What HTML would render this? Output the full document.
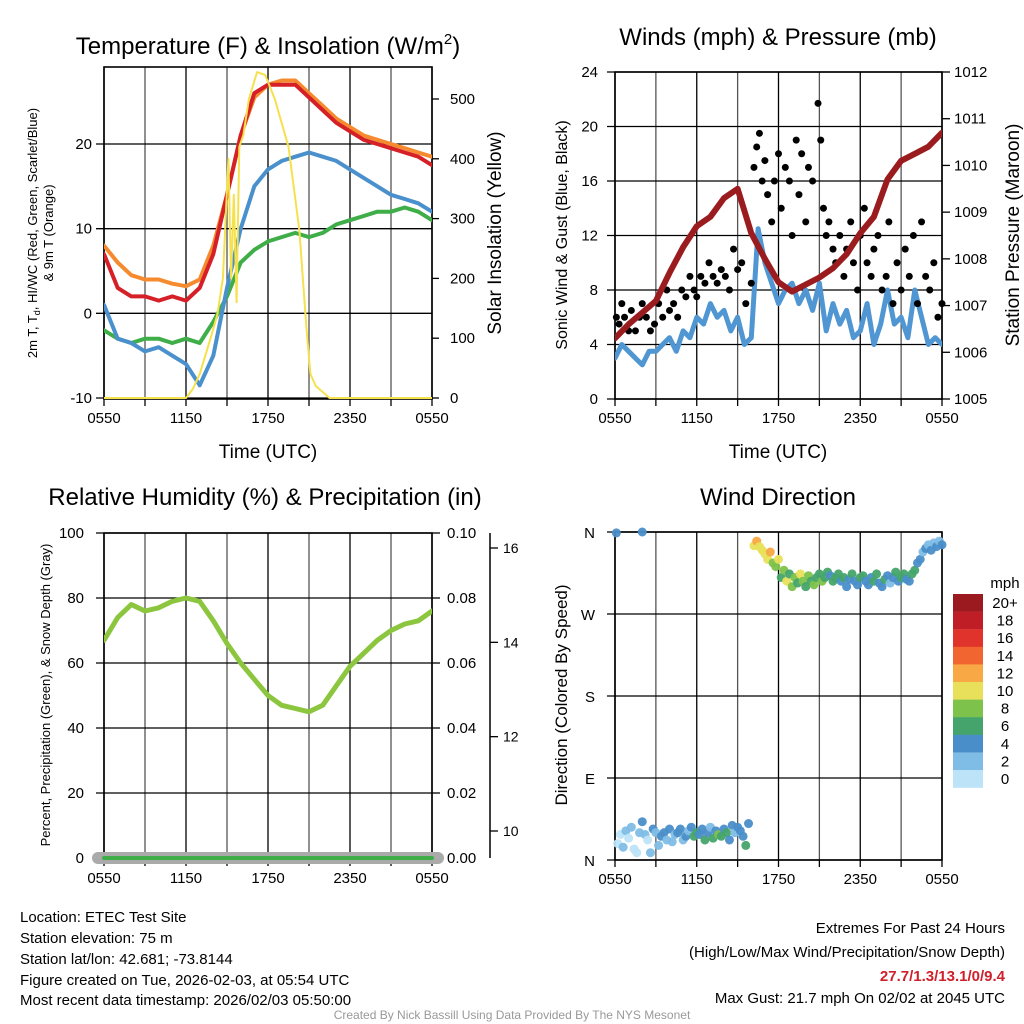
<!DOCTYPE html>
<html><head><meta charset="utf-8"><style>
html,body{margin:0;padding:0;background:#fff}
svg{display:block;font-family:"Liberation Sans",Arial,sans-serif}
</style></head><body>
<svg id="s" width="1024" height="1024" viewBox="0 0 1024 1024" xmlns="http://www.w3.org/2000/svg">
<g font-size="24" text-anchor="middle">
<text x="268" y="54">Temperature (F) &amp; Insolation (W/m<tspan font-size="15" dy="-10">2</tspan><tspan dy="10">)</tspan></text>
<text x="778" y="45">Winds (mph) &amp; Pressure (mb)</text>
<text x="265" y="505">Relative Humidity (%) &amp; Precipitation (in)</text>
<text x="778" y="505">Wind Direction</text>
</g>
<g font-size="19" text-anchor="middle">
<text x="268" y="458">Time (UTC)</text>
<text x="778" y="458">Time (UTC)</text>
<text transform="translate(501,233) rotate(-90)">Solar Insolation (Yellow)</text>
<text transform="translate(1019,235) rotate(-90)">Station Pressure (Maroon)</text>
<text transform="translate(567,235) rotate(-90)" font-size="16">Sonic Wind &amp; Gust (Blue, Black)</text>
<text transform="translate(567,695) rotate(-90)" font-size="17">Direction (Colored By Speed)</text>
<text transform="translate(50,695) rotate(-90)" font-size="13">Percent, Precipitation (Green), &amp; Snow Depth (Gray)</text>
<text transform="translate(37,233) rotate(-90)" font-size="13">2m T, T<tspan font-size="9" dy="3">d</tspan><tspan dy="-3">, HI/WC (Red, Green, Scarlet/Blue)</tspan></text>
<text transform="translate(53,233) rotate(-90)" font-size="13">&amp; 9m T (Orange)</text>
</g>
<g font-size="15">
<text x="20" y="922">Location: ETEC Test Site</text>
<text x="20" y="943">Station elevation: 75 m</text>
<text x="20" y="964">Station lat/lon: 42.681; -73.8144</text>
<text x="20" y="985">Figure created on Tue, 2026-02-03, at 05:54 UTC</text>
<text x="20" y="1005">Most recent data timestamp: 2026/02/03 05:50:00</text>
<g text-anchor="end">
<text x="1005" y="933">Extremes For Past 24 Hours</text>
<text x="1005" y="957">(High/Low/Max Wind/Precipitation/Snow Depth)</text>
<text x="1005" y="981" fill="#d0202a" font-weight="bold">27.7/1.3/13.1/0/9.4</text>
<text x="1005" y="1003">Max Gust: 21.7 mph On 02/02 at 2045 UTC</text>
</g>
<text x="512" y="1019" font-size="12" fill="#999" text-anchor="middle">Created By Nick Bassill Using Data Provided By The NYS Mesonet</text>
</g>
</svg>
<script>
// ---- data (values spread uniformly over 24 h unless paired with hours) ----
const timeLabels=["0550","1150","1750","2350","0550"];
const tempRed=[7,3,2,2,1.5,2,1.5,3,7,14,21,26,27,27,27,25.5,24,22.5,21.5,20.5,20,19.5,19,18.5,17.5];
const tempOrange=[8,6,4.5,4,4,3.5,3.2,4,8,14,21,25.5,27,27.5,27.5,26,24.5,23,22,21,20.5,20,19.5,19,18.5];
const tempBlue=[1,-3,-3.5,-4.5,-4,-5,-6,-8.5,-5,3,10,15,17,18,18.5,19,18.5,18,17,16,15,14,13.5,13,12];
const tempGreen=[-2,-3,-3.5,-3,-3,-3.5,-3,-3.5,-1,2,6,7.5,8.5,9,9.5,9,9.5,10.5,11,11.5,12,12,12.5,12,11];
const solarHours=[0,6,6.5,7,7.8,8.3,8.7,9.1,9.3,9.5,9.7,9.9,10.2,10.6,11.2,11.8,12.5,13.5,14.3,14.8,15.1,15.5,16.5,24];
const solarVals=[0,0,15,40,100,140,200,400,200,340,160,420,440,500,545,540,500,420,280,120,40,20,0,0];
const sonic=[3,4,3.5,3,2.5,3.5,3.5,4,4.5,3.5,5,4.5,6,5.5,7,6,6.5,5,6,4,4.5,12.5,10,8.5,7,8,8.5,7,8,6.5,8.5,5,7,5.5,6.5,4.5,5,7,4,5.5,8,5.5,6,4.5,8,6,4,4.5,4];
const pressure=[1006.3,1006.6,1006.85,1007.1,1007.7,1008.25,1008.7,1008.9,1009.3,1009.5,1008.55,1008.0,1007.5,1007.3,1007.45,1007.6,1007.8,1008.1,1008.55,1008.9,1009.7,1010.1,1010.25,1010.4,1010.7];
const gustPoints=[[0.1,6],[0.3,5.5],[0.5,7],[0.7,6],[1,5],[1.2,6.5],[1.5,5],[1.8,6],[2,7],[2.3,6],[2.6,5],[2.9,5.5],[3.2,7],[3.5,6],[3.8,8],[4,6.5],[4.3,7],[4.6,6],[4.9,8],[5.2,7.5],[5.5,9],[5.8,8],[6,7.5],[6.3,9],[6.6,8.5],[6.9,10],[7.2,9],[7.5,8.5],[7.8,9.5],[8.1,9],[8.4,8],[8.7,11],[9,9.5],[9.3,10],[9.6,7],[10,8.5],[10.2,17],[10.4,18.5],[10.6,19.5],[10.8,16],[11,17.5],[11.2,15],[11.5,13],[11.7,16],[12,18],[12.2,14],[12.5,17],[12.8,16],[13,12],[13.3,19],[13.5,15],[13.7,18],[14,13],[14.2,17],[14.5,16],[14.9,21.7],[15.1,19],[15.3,14],[15.5,12],[15.7,13],[16,11],[16.2,10],[16.5,12],[16.8,9],[17,11],[17.3,13],[17.5,10],[17.8,8],[18,12],[18.3,14],[18.5,10],[18.8,9],[19,11],[19.3,12],[19.6,8],[19.9,9],[20.1,13],[20.4,7],[20.7,10],[21,8],[21.3,11],[21.6,9],[21.9,12],[22.2,7],[22.5,13],[22.8,9],[23.1,8],[23.4,10],[23.7,6],[24,7]];
const rh=[67,74,78,76,77,79,80,79,73,66,60,55,50,47,46,45,47,53,59,63,67,70,72,73,76];
const precip=[0,0,0,0,0,0,0,0,0,0,0,0,0,0,0,0,0,0,0,0,0,0,0,0,0];
// [hour, direction (deg), speed (mph)]
const dirPoints=[[0.1,359,4],[2,360,4],[0.2,18,1],[0.4,28,1],[0.6,14,3],[0.8,32,3],[1,24,1],[1.2,36,3],[1.4,12,1],[1.6,8,1],[1.8,30,3],[2,42,4],[2.2,28,3],[2.4,22,1],[2.6,8,3],[2.8,34,4],[3,30,3],[3.2,16,3],[3.4,26,4],[3.6,30,4],[3.8,22,3],[4,34,4],[4.2,20,3],[4.4,28,3],[4.6,30,4],[4.8,34,4],[5,22,3],[5.2,26,4],[5.4,32,3],[5.6,36,4],[5.8,26,6],[6,30,6],[6.2,28,4],[6.4,34,4],[6.6,22,6],[6.8,30,4],[7,36,3],[7.2,24,6],[7.4,32,4],[7.6,28,8],[7.8,26,6],[8,34,4],[8.2,30,6],[8.4,22,4],[8.6,38,4],[8.8,30,3],[9,36,4],[9.2,32,5],[9.4,26,4],[9.6,16,6],[9.8,40,4],[10.2,345,10],[10.4,350,12],[10.6,344,10],[10.8,340,10],[11,336,11],[11.2,330,10],[11.4,338,12],[11.6,326,9],[11.8,322,8],[12,330,10],[12.2,310,7],[12.4,318,8],[12.6,306,10],[12.8,314,6],[13,300,9],[13.2,310,8],[13.4,304,7],[13.6,314,10],[13.8,306,8],[14,300,7],[14.2,312,9],[14.4,306,6],[14.6,302,8],[14.8,310,6],[15,314,7],[15.2,306,8],[15.4,310,6],[15.6,316,7],[15.8,312,5],[16,306,6],[16.2,310,7],[16.4,314,6],[16.6,306,5],[16.8,310,7],[17,300,4],[17.2,308,5],[17.4,314,6],[17.6,306,4],[17.8,302,5],[18,310,7],[18.2,312,6],[18.4,306,4],[18.6,302,5],[18.8,310,4],[19,306,6],[19.2,314,7],[19.4,304,5],[19.6,300,4],[19.8,308,6],[20,312,4],[20.2,304,3],[20.4,310,5],[20.6,316,6],[20.8,306,4],[21,310,7],[21.2,314,6],[21.4,308,5],[21.6,306,4],[21.8,314,6],[22,318,7],[22.2,326,4],[22.4,330,4],[22.6,338,3],[22.8,342,4],[23,346,3],[23.2,340,4],[23.4,348,3],[23.6,344,4],[23.8,350,3],[24,346,4]];
const cbLabels=["20+","18","16","14","12","10","8","6","4","2","0"];
const cbColors=["#9b1a1f","#c01e27","#e0332b","#f16530","#f8a845","#e8e05a","#7dc24b","#45a46b","#4a8ec9","#7fbde6","#bde3f8"];

const NS="http://www.w3.org/2000/svg";
const svg=document.getElementById('s');
function mk(tag,attrs,parent){const e=document.createElementNS(NS,tag);for(const k in attrs)e.setAttribute(k,attrs[k]);(parent||svg).appendChild(e);return e;}
function xScale(x0,x1){return h=>x0+(x1-x0)*h/24;}
function yScale(y0,y1,v0,v1){return v=>y0+(y1-y0)*(v-v0)/(v1-v0);}

function frame(name,L,R,T,B,hLines){
  const g=mk('g',{});
  
  
  for(let i=0;i<=8;i++){const x=L+(R-L)*i/8;const l=mk('line',{x1:x,x2:x,y1:T,y2:B,stroke:i%2?'#555':'#000','stroke-width':1.3},g);
    const t=mk('line',{x1:x,x2:x,y1:B,y2:B+7,stroke:'#000','stroke-width':1.3},g);}
  hLines.forEach(y=>{const l=mk('line',{x1:L-8,x2:R,y1:y,y2:y,stroke:'#000','stroke-width':1.3},g);});
  const r=mk('rect',{x:L,y:T,width:R-L,height:B-T,fill:'none',stroke:'#000','stroke-width':1.6},g);
  
  timeLabels.forEach((s,i)=>{const t=mk('text',{x:L+(R-L)*i/4,y:B+24,'font-size':15,'text-anchor':'middle'},g);t.textContent=s;});
  return g;
}
function label(x,y,txt,anchor,name,size){const t=mk('text',{x:x,y:y,'font-size':size||15,'text-anchor':anchor});t.textContent=txt;return t;}
function series(xs,ys,hours,vals,color,w,name,clip){
  const n=vals.length;let d='';
  vals.forEach((v,i)=>{const h=hours?hours[i]:24*i/(n-1);d+=(i?'L':'M')+xs(h).toFixed(1)+','+ys(v).toFixed(1);});
  const p=mk('path',{d:d,fill:'none',stroke:color,'stroke-width':w,'stroke-linejoin':'round','stroke-linecap':'round'});
  if(clip)p.setAttribute('clip-path',clip);
  return p;
}
const defs=mk('defs',{});
[['c1',104,67,328,332],['c2',615,72,327,327],['c3',104,533,328,326]].forEach(c=>{const cp=mk('clipPath',{id:c[0]},defs);mk('rect',{x:c[1],y:c[2]-3,width:c[3],height:c[4]+6},cp);});

// ---------- Panel 1 ----------
{const L=104,R=432,T=67,B=399;const xs=xScale(L,R);const yT=yScale(398,144,-10,20);const yS=yScale(398,99,0,500);
 frame('temp',L,R,T,B,[-10,0,10,20].map(yT));
 [-10,0,10,20].forEach(v=>label(L-12,yT(v)+5,String(v),'end','temp-y-tick-label'));
 [0,100,200,300,400,500].forEach(v=>{label(R+18,yS(v)+5,String(v),'start','solar-y-tick-label');const t=mk('line',{x1:R,x2:R+7,y1:yS(v),y2:yS(v),stroke:'#000','stroke-width':1.3});});
 series(xs,yT,null,tempGreen,'#3fae49',4,'dewpoint-line','url(#c1)');
 series(xs,yT,null,tempBlue,'#4a90cc',4,'windchill-line','url(#c1)');
 series(xs,yT,null,tempOrange,'#f58a2e',4,'temp-9m-line','url(#c1)');
 series(xs,yT,null,tempRed,'#d62027',4,'temp-2m-line','url(#c1)');
 series(xs,yS,solarHours,solarVals,'#f5e14e',2,'solar-line','url(#c1)');
}
// ---------- Panel 2 ----------
{const L=615,R=942,T=72,B=399;const xs=xScale(L,R);const yW=yScale(399,72,0,24);const yP=yScale(399,72,1005,1012);
 frame('wind',L,R,T,B,[0,4,8,12,16,20,24].map(yW));
 [0,4,8,12,16,20,24].forEach(v=>label(L-17,yW(v)+5,String(v),'end','wind-y-tick-label'));
 [1005,1006,1007,1008,1009,1010,1011,1012].forEach(v=>{label(R+12,yP(v)+5,String(v),'start','pressure-y-tick-label');const t=mk('line',{x1:R,x2:R+8,y1:yP(v),y2:yP(v),stroke:'#000','stroke-width':1.3});});
 series(xs,yW,null,sonic,'#4f96d2',5,'sonic-wind-line','url(#c2)');
 gustPoints.forEach(p=>{const c=mk('circle',{cx:xs(p[0]),cy:yW(p[1]),r:3.5,fill:'#000'});});
 series(xs,yP,null,pressure,'#9b1c1f',6,'pressure-line','url(#c2)');
}
// ---------- Panel 3 ----------
{const L=104,R=432,T=533,B=859;const xs=xScale(L,R);const yR=yScale(858,533,0,100);const yPr=yScale(858,533,0,0.1);const yS=yScale(831,548,10,16);
 frame('rh',L,R,T,B,[0,20,40,60,80,100].map(yR));
 [0,20,40,60,80,100].forEach(v=>label(L-20,yR(v)+5,String(v),'end','rh-y-tick-label'));
 [0,0.02,0.04,0.06,0.08,0.1].forEach(v=>{label(R+15,yPr(v)+5,v.toFixed(2),'start','precip-y-tick-label');const t=mk('line',{x1:R,x2:R+8,y1:yPr(v),y2:yPr(v),stroke:'#000','stroke-width':1.3});});
 const ax=mk('line',{x1:490,x2:490,y1:533,y2:858,stroke:'#000','stroke-width':1.5});
 [10,12,14,16].forEach(v=>{label(503,yS(v)+5,String(v),'start','snow-y-tick-label',14);const t=mk('line',{x1:490,x2:498,y1:yS(v),y2:yS(v),stroke:'#000','stroke-width':1.3});});
 const g=mk('line',{x1:L-6,x2:R+6,y1:858,y2:858,stroke:'#aaa','stroke-width':12,'stroke-linecap':'round'});
 series(xs,yPr,null,precip,'#3fae49',4,'precip-line');
 series(xs,yR,null,rh,'#8cc63f',5,'rh-line','url(#c3)');
}
// ---------- Panel 4 ----------
{const L=615,R=942,T=532,B=860;const xs=xScale(L,R);const yD=yScale(860,532,0,360);
 frame('dir',L,R,T,B,[0,90,180,270,360].map(yD));
 ['N','E','S','W','N'].forEach((s,i)=>label(L-20,yD(i*90)+6,s,'end','dir-y-tick-label'));
 dirPoints.forEach(p=>{const b=Math.min(10,Math.floor(p[2]/2));const c=mk('circle',{cx:xs(p[0]),cy:yD(p[1]),r:4.5,fill:cbColors[10-b],'fill-opacity':0.95});});
 label(1005,588,'mph','middle','colorbar-title');
 cbLabels.forEach((s,i)=>{const r=mk('rect',{x:953,y:594+i*17.6,width:30,height:17.8,fill:cbColors[i]});label(1005,594+i*17.6+14,s,'middle','colorbar-label');});
}
</script>
</body></html>
